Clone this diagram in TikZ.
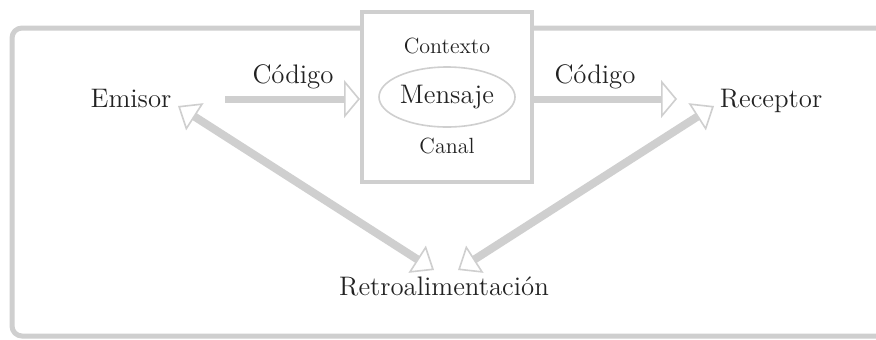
\documentclass[tikz,border=0pt]{standalone}
\usepackage{xcolor}
\usetikzlibrary{arrows.meta,shapes.geometric}
\definecolor{linegray}{HTML}{CFCFCF}
\definecolor{inkgray}{HTML}{222222}
\tikzset{
  frame/.style={draw=linegray, line width=2.5pt, rounded corners=5pt},
  flow/.style={draw=linegray, line width=3.5pt,
    -{Triangle[open, length=8pt, width=19pt, line width=0.8pt]}},
  feedback/.style={draw=linegray, line width=4pt,
    {Triangle[open, length=10pt, width=16pt, line width=0.8pt]}-{Triangle[open, length=10pt, width=16pt, line width=0.8pt]}},
  bigtext/.style={text=inkgray, font=\fontsize{13.4}{16}\selectfont, inner sep=0pt},
  smalltext/.style={text=inkgray, font=\fontsize{11}{13}\selectfont, inner sep=0pt},
  msgbox/.style={draw=linegray, fill=white, line width=2pt,
    minimum width=85pt, minimum height=85pt, inner sep=0pt},
  msgoval/.style={ellipse, draw=linegray, line width=0.8pt,
    minimum width=68pt, minimum height=30pt, inner sep=0pt}
}
\begin{document}
\begin{tikzpicture}[x=0.5pt, y=-0.5pt]
  \useasboundingbox (0,0) rectangle (876,339);
  \fill[white] (0,0) rectangle (876,339);

  % outer frame, open past the right edge
  \draw[frame] (910,28) -- (12,28) -- (12,336) -- (910,336);

  % message box in the middle
  \node[msgbox] (caja) at (447,97) {};
  \node[smalltext, anchor=base] (contexto) at (447,53) {Contexto};
  \node[msgoval, bigtext] (mensaje) at (447,97) {Mensaje};
  \node[smalltext, anchor=base] (canal) at (447,153) {Canal};

  % parties
  \node[bigtext, anchor=base] (emisor) at (131,107) {Emisor};
  \node[bigtext, anchor=base] (receptor) at (771,107) {Receptor};
  \node[bigtext, anchor=base] (retro) at (444,295) {Retroalimentación};

  % code arrows
  \coordinate (codigoA) at (225,99);
  \coordinate (codigoB) at (677,99);
  \draw[flow] (codigoA) -- (caja.west |- codigoA);
  \draw[flow] (caja.east |- codigoB) -- (codigoB);
  \node[bigtext, anchor=base] (codigoL) at (293,83) {Código};
  \node[bigtext, anchor=base] (codigoR) at (595,83) {Código};

  % feedback arrows
  \coordinate (fbE) at (178,106);
  \coordinate (fbEr) at (434,270);
  \coordinate (fbR) at (714,106);
  \coordinate (fbRr) at (458,270);
  \draw[feedback] (fbE) -- (fbEr);
  \draw[feedback] (fbRr) -- (fbR);
\end{tikzpicture}
\end{document}
